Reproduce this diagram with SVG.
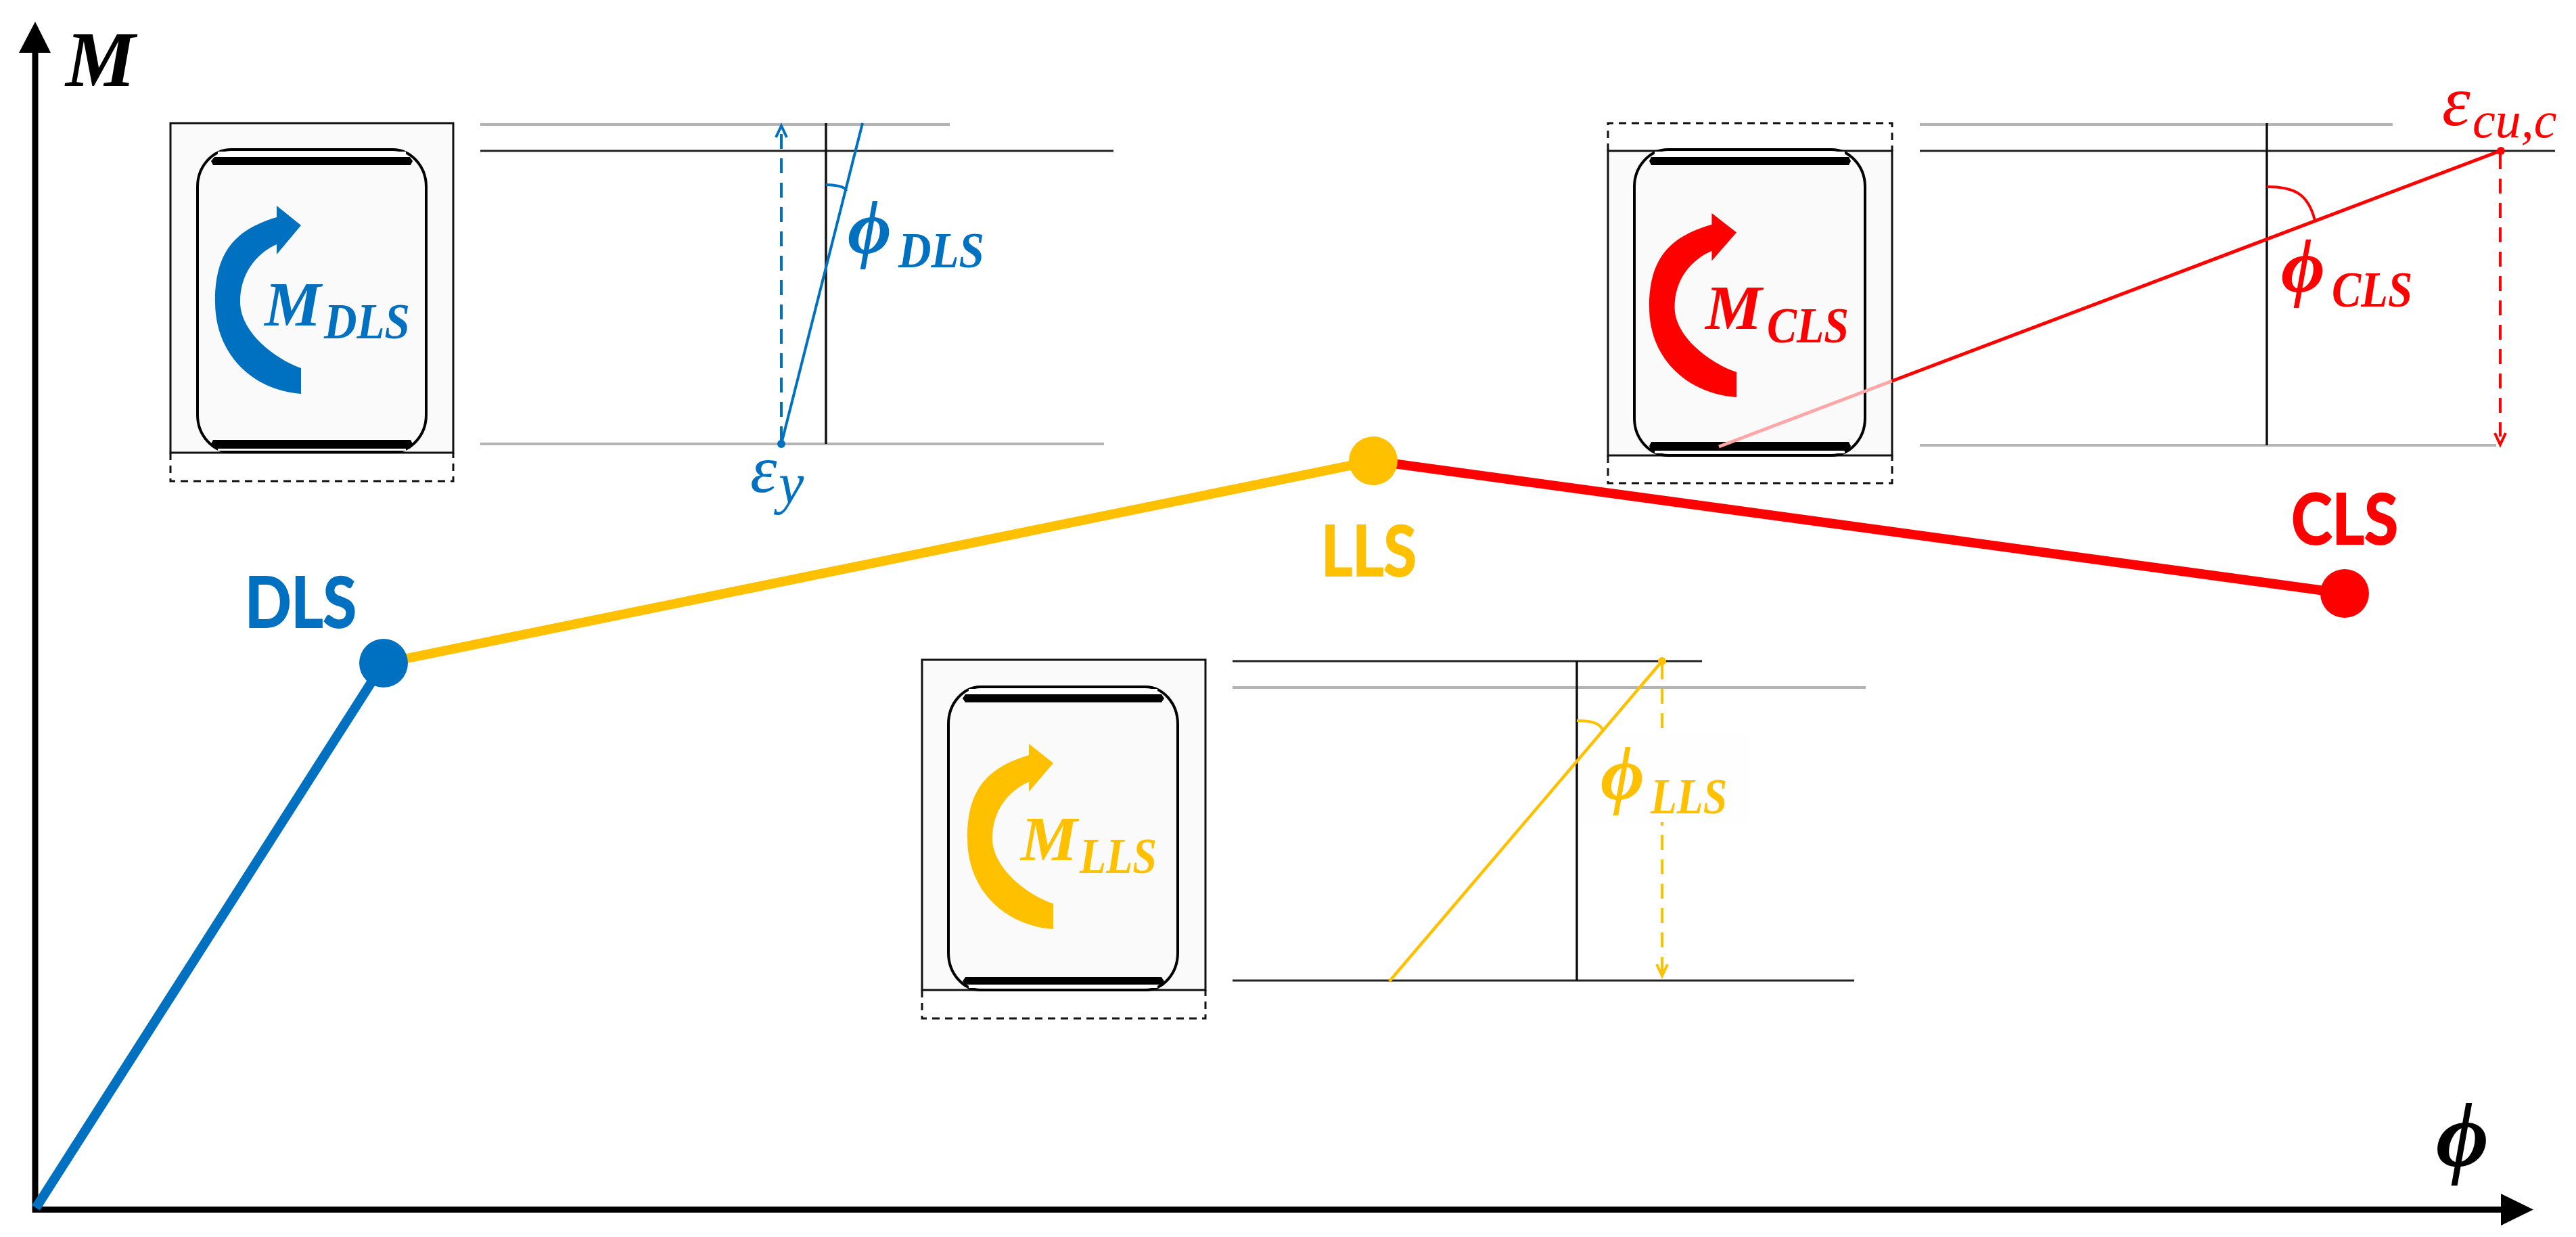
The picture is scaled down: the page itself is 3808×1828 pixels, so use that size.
<svg xmlns="http://www.w3.org/2000/svg" width="3808" height="1828" viewBox="0 0 3808 1828">
<defs>
<style>
.box{fill:#fafafa;stroke:#111;stroke-width:3}
.dash{fill:none;stroke:#111;stroke-width:3;stroke-dasharray:11 8}
.core{fill:#fafafa;stroke:#000;stroke-width:4}
.bar{fill:#000}
.strip{fill:#fff}
.grey{stroke:#b4b4b4;stroke-width:4;fill:none}
.blk{stroke:#222;stroke-width:3;fill:none}
.v{stroke:#111;stroke-width:3.5;fill:none}
.m{font-family:"Liberation Serif",serif;font-weight:bold;font-style:italic}
.e{font-family:"Liberation Serif",serif;font-style:italic}
.l{font-family:Lato,"Liberation Sans",sans-serif;font-weight:bold;font-size:103px;stroke-width:2}
.bl{fill:#0070c0}.yl{fill:#ffc000}.rd{fill:#ff0000}.k{fill:#000}
.l.bl{stroke:#0070c0}.l.yl{stroke:#ffc000}.l.rd{stroke:#ff0000}
.sb{stroke:#0070c0;fill:none}.sy{stroke:#ffc000;fill:none}.sr{stroke:#ff0000;fill:none}
.cv{stroke-width:14;fill:none}
.th{stroke-width:4}
.ds{stroke-width:4;stroke-dasharray:22 14}
</style>
<path id="moment-arrow" d="M445 582C375 577 318 525 318 446C318 375 345 340 409 321L409 304L445 333L409 376L409 361C378 375 355 405 355 446C355 490 405 530 445 544Z"/>
</defs>
<rect width="3808" height="1828" fill="#fff"/>

<g id="section-dls">
<rect class="box" x="252" y="182" width="418" height="487"/>
<path class="dash" d="M252 669V711H670V669"/>
<rect class="core" x="292" y="221" width="338" height="447" rx="50" ry="55"/>
<rect class="strip" x="322" y="224" width="278" height="8"/>
<rect class="strip" x="322" y="663" width="278" height="3"/>
<path class="bar" d="M317 232H606L610 238 607 244H315L312 238Z"/>
<path class="bar" d="M315 650H607L610 656 606 663H317L312 656Z"/>
<use href="#moment-arrow" class="bl"/>
<text class="m bl" x="391" y="481" font-size="94">M</text>
<text class="m bl" x="479" y="500" font-size="74" textLength="127" lengthAdjust="spacingAndGlyphs">DLS</text>
</g>

<g id="strain-dls">
<path class="grey" d="M710 184H1404"/>
<path class="blk" d="M710 223H1646"/>
<path class="grey" d="M710 656H1632"/>
<path class="v" d="M1221 182V656"/>
<path class="sb ds" d="M1155 652V196"/>
<path class="sb th" d="M1147 203L1155 186L1163 203"/>
<path class="sb th" d="M1155 656L1275 182"/>
<circle class="bl" cx="1155" cy="656" r="6"/>
<path class="sb th" d="M1221 273C1231 273 1250 275 1251 282"/>
<text class="m bl" x="1253" y="374" font-size="112">ϕ</text>
<text class="m bl" x="1328" y="395" font-size="74" textLength="127" lengthAdjust="spacingAndGlyphs">DLS</text>
<text class="e bl" x="1109" y="727" font-size="100">ε</text>
<text class="e bl" x="1151" y="743" font-size="84">y</text>
</g>

<g id="section-cls">
<rect class="box" x="2377" y="223" width="420" height="450"/>
<path class="dash" d="M2377 223V182H2797V223M2377 673V714H2797V673"/>
<rect class="core" x="2416" y="221" width="341" height="452" rx="50" ry="55"/>
<rect class="strip" x="2446" y="224" width="281" height="8"/>
<rect class="strip" x="2446" y="667" width="281" height="3"/>
<path class="bar" d="M2441 232H2733L2736 238 2733 244H2441L2438 238Z"/>
<path class="bar" d="M2441 653H2733L2736 659 2733 666H2441L2438 659Z"/>
<use href="#moment-arrow" class="rd" transform="translate(2438 454) scale(1.016 .978) translate(-318 -446)"/>
<text class="m rd" x="2521" y="486" font-size="94">M</text>
<text class="m rd" x="2612" y="506" font-size="74" textLength="121" lengthAdjust="spacingAndGlyphs">CLS</text>
</g>

<g id="strain-cls">
<path class="grey" d="M2838 184H3537"/>
<path class="blk" d="M2838 223H3777"/>
<path class="grey" d="M2838 658H3690"/>
<path class="v" d="M3351 182V658"/>
<path stroke="#ffa6a6" stroke-width="5" fill="none" d="M2541 660L2797 563"/>
<path class="sr" stroke-width="5" d="M2797 563L3696 223"/>
<path class="sr ds" d="M3696 228V645"/>
<path class="sr th" d="M3688 640L3696 657L3704 640"/>
<circle class="rd" cx="3697" cy="223" r="6"/>
<path class="sr th" d="M3351 276C3390 276 3412 285 3422 326"/>
<text class="m rd" x="3372" y="431" font-size="112">ϕ</text>
<text class="m rd" x="3447" y="453" font-size="74" textLength="119" lengthAdjust="spacingAndGlyphs">CLS</text>
<text class="e rd" x="3610" y="185" font-size="106">ε</text>
<text class="e rd" x="3655" y="203" font-size="76">cu,c</text>
</g>

<g id="section-lls">
<rect class="box" x="1363" y="975" width="419" height="488"/>
<path class="dash" d="M1363 1463V1505H1782V1463"/>
<rect class="core" x="1402" y="1015" width="339" height="448" rx="48" ry="55"/>
<rect class="strip" x="1432" y="1018" width="279" height="8"/>
<rect class="strip" x="1432" y="1455" width="279" height="5"/>
<path class="bar" d="M1427 1026H1717L1721 1032 1717 1038H1427L1423 1032Z"/>
<path class="bar" d="M1427 1444H1717L1721 1450 1717 1455H1427L1423 1450Z"/>
<use href="#moment-arrow" class="yl" transform="translate(1430 1239) scale(1 .985) translate(-318 -446)"/>
<text class="m yl" x="1509" y="1271" font-size="94">M</text>
<text class="m yl" x="1596" y="1290" font-size="74" textLength="114" lengthAdjust="spacingAndGlyphs">LLS</text>
</g>

<g id="strain-lls">
<path class="blk" d="M1822 977H2516"/>
<path class="grey" d="M1822 1016H2758" stroke-width="5"/>
<path class="blk" d="M1822 1449H2741"/>
<path class="sy ds" d="M2457 982V1436"/>
<rect x="2334" y="1084" width="252" height="131" fill="#fefefe"/>
<path class="v" d="M2331 977V1449"/>
<path class="sy th" d="M2449 1425L2457 1442L2465 1425"/>
<path class="sy" stroke-width="4.500" d="M2457 977L2054 1450"/>
<circle class="yl" cx="2457" cy="977" r="6"/>
<path class="sy th" d="M2331 1065C2352 1065 2366 1068 2370 1081"/>
<text class="m yl" x="2366" y="1181" font-size="112">ϕ</text>
<text class="m yl" x="2440" y="1202" font-size="74" textLength="113" lengthAdjust="spacingAndGlyphs">LLS</text>
</g>

<g id="axis-m">
<rect class="k" x="47.500" y="76" width="9" height="1716"/>
<polygon class="k" points="52,32 75,78 28,78"/>
<text class="m k" x="97" y="127" font-size="116">M</text>
</g>
<g id="axis-phi">
<rect class="k" x="52" y="1783" width="3650" height="9"/>
<polygon class="k" points="3745,1787.500 3697,1764 3697,1811"/>
<text class="m k" x="3601" y="1723" font-size="135">ϕ</text>
</g>

<g id="connectors">
<path class="sb cv" d="M53 1785L567 980"/>
<path class="sy cv" d="M567 980L2030 681"/>
<path class="sr cv" d="M2030 681L3466 877"/>
</g>

<g id="node-dls">
<circle class="bl" cx="567" cy="980" r="36"/>
<text class="l bl" x="362" y="927" textLength="165" lengthAdjust="spacingAndGlyphs">DLS</text>
</g>
<g id="node-lls">
<circle class="yl" cx="2030" cy="681" r="36"/>
<text class="l yl" x="1953" y="851" textLength="141" lengthAdjust="spacingAndGlyphs">LLS</text>
</g>
<g id="node-cls">
<circle class="rd" cx="3466" cy="877" r="36"/>
<text class="l rd" x="3387" y="804" textLength="158" lengthAdjust="spacingAndGlyphs">CLS</text>
</g>
</svg>
